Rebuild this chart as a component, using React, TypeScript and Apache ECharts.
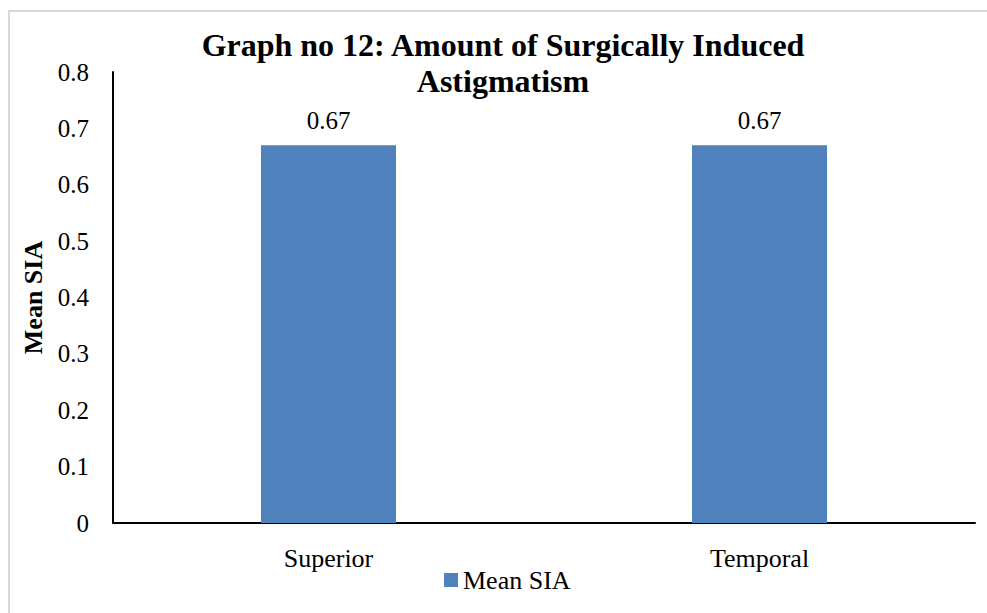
import React, { useEffect, useRef } from "react";
import * as echarts from "echarts";

const categories = ["Superior", "Temporal"];
const seriesName = "Mean SIA";
const meanSIA = [0.67, 0.67];
const yTicks = { min: 0, max: 0.8, interval: 0.1 };
const titleText = "Graph no 12: Amount of Surgically Induced\nAstigmatism";
const yAxisTitle = "Mean SIA";

const FONT = '"Liberation Serif", "Times New Roman", serif';

export default function App() {
  const ref = useRef<HTMLDivElement>(null);
  useEffect(() => {
    if (!ref.current) return;
    const chart = echarts.init(ref.current, undefined, { renderer: "svg" });
    chart.setOption({
      animation: false,
      backgroundColor: "#ffffff",
      textStyle: { fontFamily: FONT, color: "#000" },
      title: {
        text: titleText,
        left: 503,
        top: 27,
        textAlign: "center",
        padding: 0,
        textStyle: {
          fontFamily: FONT,
          fontSize: 32,
          fontWeight: "bold",
          lineHeight: 36,
          color: "#000",
        },
      },
      graphic: [
        {
          type: "rect",
          shape: { x: 9, y: 11, width: 1100, height: 700 },
          style: { fill: "none", stroke: "#d9d9d9", lineWidth: 2 },
          silent: true,
          z: -1,
        },
      ],
      legend: {
        data: [seriesName],
        left: 444,
        top: 567,
        padding: 0,
        itemWidth: 14,
        itemHeight: 14,
        itemGap: 5,
        icon: "rect",
        textStyle: { fontFamily: FONT, fontSize: 26, color: "#000", padding: [0, 0, 0, 0] },
      },
      grid: { left: 113, right: 12, top: 72, bottom: 90, containLabel: false },
      xAxis: {
        type: "category",
        data: categories,
        axisLine: { show: true, lineStyle: { color: "#000", width: 2 } },
        axisTick: { show: false },
        axisLabel: { fontFamily: FONT, fontSize: 26, color: "#000", margin: 22 },
        splitLine: { show: false },
      },
      yAxis: {
        type: "value",
        min: yTicks.min,
        max: yTicks.max,
        interval: yTicks.interval,
        name: yAxisTitle,
        nameLocation: "middle",
        nameRotate: 90,
        nameGap: 65,
        nameTextStyle: { fontFamily: FONT, fontSize: 26, fontWeight: "bold", color: "#000" },
        axisLine: { show: true, lineStyle: { color: "#000", width: 2 } },
        axisTick: { show: false },
        axisLabel: {
          fontFamily: FONT,
          fontSize: 25,
          color: "#000",
          margin: 24,
          formatter: (v: number) => (v === 0 ? "0" : String(Math.round(v * 10) / 10)),
        },
        splitLine: { show: false },
      },
      series: [
        {
          name: seriesName,
          type: "bar",
          data: meanSIA,
          barWidth: 135,
          itemStyle: { color: "#4f81bd" },
          label: {
            show: true,
            position: "top",
            distance: 12,
            fontFamily: FONT,
            fontSize: 25,
            color: "#000",
            formatter: (p: any) => String(p.value),
          },
        },
      ],
    });
    return () => chart.dispose();
  }, []);
  return (
    <div
      ref={ref}
      style={{ position: "fixed", left: 0, top: 0, width: 987, height: 613 }}
    />
  );
}
